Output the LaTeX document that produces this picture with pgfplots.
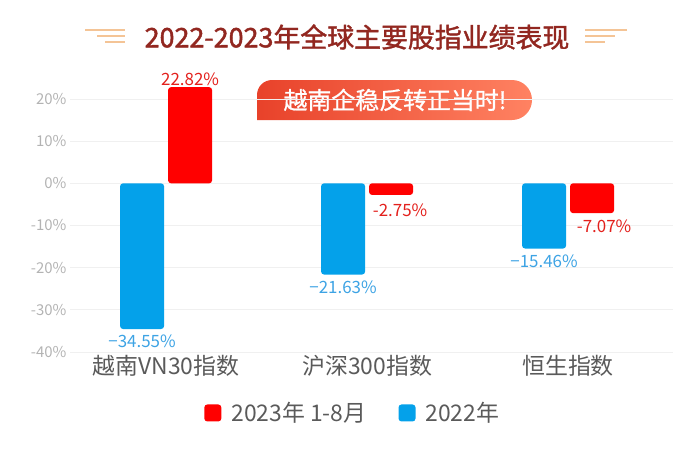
\documentclass[border=0pt]{standalone}
\usepackage{fontspec}
\setmainfont{Noto Sans CJK SC}
\newfontfamily\heavyfont[FakeBold=1.6]{Noto Sans CJK SC}
\newfontfamily\midfont[FakeBold=0.9]{Noto Sans CJK SC}
\usepackage{pgfplots}
\pgfplotsset{compat=1.18}

\definecolor{barRed}{HTML}{FF0000}
\definecolor{barBlue}{HTML}{04A1EA}
\definecolor{labRed}{HTML}{E3201C}
\definecolor{labBlue}{HTML}{3DA3E4}
\definecolor{titleRed}{HTML}{922720}
\definecolor{decor}{HTML}{F4C496}
\definecolor{tickGray}{HTML}{B3B3B3}
\definecolor{textGray}{HTML}{5A5A5A}
\definecolor{gridGray}{HTML}{F0F0F0}
\definecolor{badgeL}{HTML}{E8422A}
\definecolor{badgeR}{HTML}{FF8262}

\begin{document}
\begin{tikzpicture}
\path[use as bounding box] (0bp,0bp) rectangle (700bp,-449bp);

% title and its ornaments
\draw[decor, line width=1.5bp] (85bp,-30bp) -- (125bp,-30bp);
\draw[decor, line width=1.5bp] (97bp,-36bp) -- (125bp,-36bp);
\draw[decor, line width=1.5bp] (105bp,-42bp) -- (125bp,-42bp);
\draw[decor, line width=1.5bp] (585bp,-30bp) -- (627bp,-30bp);
\draw[decor, line width=1.5bp] (585bp,-36bp) -- (615bp,-36bp);
\draw[decor, line width=1.5bp] (585bp,-42bp) -- (605bp,-42bp);
\node[text=titleRed, font=\heavyfont\fontsize{27}{27}\selectfont] at (357bp,-37bp)
  {2022-2023年全球主要股指业绩表现};

% badge
\shade[left color=badgeL, right color=badgeR]
  (257bp,-120bp) -- (257bp,-95bp) arc[start angle=180, end angle=90, radius=15bp]
  -- (512bp,-80bp) arc[start angle=90, end angle=-90, radius=20bp] -- cycle;
\node[text=white, font=\midfont\fontsize{24}{24}\selectfont] at (395bp,-100bp)
  {越南企稳反转正当时!};

\begin{axis}[
    at={(70bp,-352bp)}, anchor=south west,
    scale only axis, width=603bp, height=253bp,
    xmin=-0.478, xmax=2.522, ymin=-40, ymax=20,
    clip=false,
    ybar=4bp, bar width=44bp,
    axis line style={draw=none},
    major tick length=0pt,
    ymajorgrids=true,
    grid style={draw=gridGray, line width=0.8bp},
    ytick={-40,-30,...,20},
    yticklabels={-40\%,-30\%,-20\%,-10\%,0\%,10\%,20\%},
    yticklabel style={text=tickGray, font=\fontsize{15}{15}\selectfont},
    xtick={0,1,2},
    xticklabels={越南VN30指数,沪深300指数,恒生指数},
    xticklabel style={text=textGray, font=\fontsize{23}{23}\selectfont, yshift=0bp},
    legend style={at={(0.469,-0.241)}, anchor=center, draw=none, fill=none,
        font=\fontsize{23}{23}\selectfont, text=textGray,
        /tikz/every odd column/.append style={column sep=8bp},
        /tikz/every even column/.append style={column sep=30bp}},
    legend columns=2,
    reverse legend,
]

% 2022
\addplot[fill=barBlue, draw=none, rounded corners=3bp,
    legend image code/.code={\fill[barBlue] (0bp,-8.5bp) rectangle (17bp,8.5bp);},
    point meta=explicit symbolic,
    nodes near coords={\pgfplotspointmeta\%},
    every node near coord/.append style={anchor=north, text=labBlue,
        font=\fontsize{17}{17}\selectfont, inner sep=1bp, yshift=-5bp}]
  table[x=x, y=y, meta=lab] {
x y lab
0 -34.55 −34.55
1 -21.63 −21.63
2 -15.46 −15.46
};
\addlegendentry{2022年}

% 2023 Jan-Aug
\addplot[fill=barRed, draw=none, rounded corners=3bp,
    legend image code/.code={\fill[barRed] (0bp,-8.5bp) rectangle (17bp,8.5bp);},
    point meta=explicit symbolic,
    visualization depends on={value \thisrow{dx} \as \dx},
    visualization depends on={value \thisrow{dy} \as \dy},
    visualization depends on={value \thisrow{anc} \as \anc},
    nodes near coords={\pgfplotspointmeta\%},
    every node near coord/.append style={anchor=\anc, text=labRed,
        font=\fontsize{17}{17}\selectfont, inner sep=1bp,
        xshift=\dx bp, yshift=\dy bp}]
  table[x=x, y=y, meta=lab] {
x y lab dx dy anc
0 22.82 22.82 0 0 south
1 -2.75 -2.75 9 -8 north
2 -7.07 -7.07 12 -6 north
};
\addlegendentry{2023年 1-8月}

\end{axis}
\end{tikzpicture}
\end{document}
